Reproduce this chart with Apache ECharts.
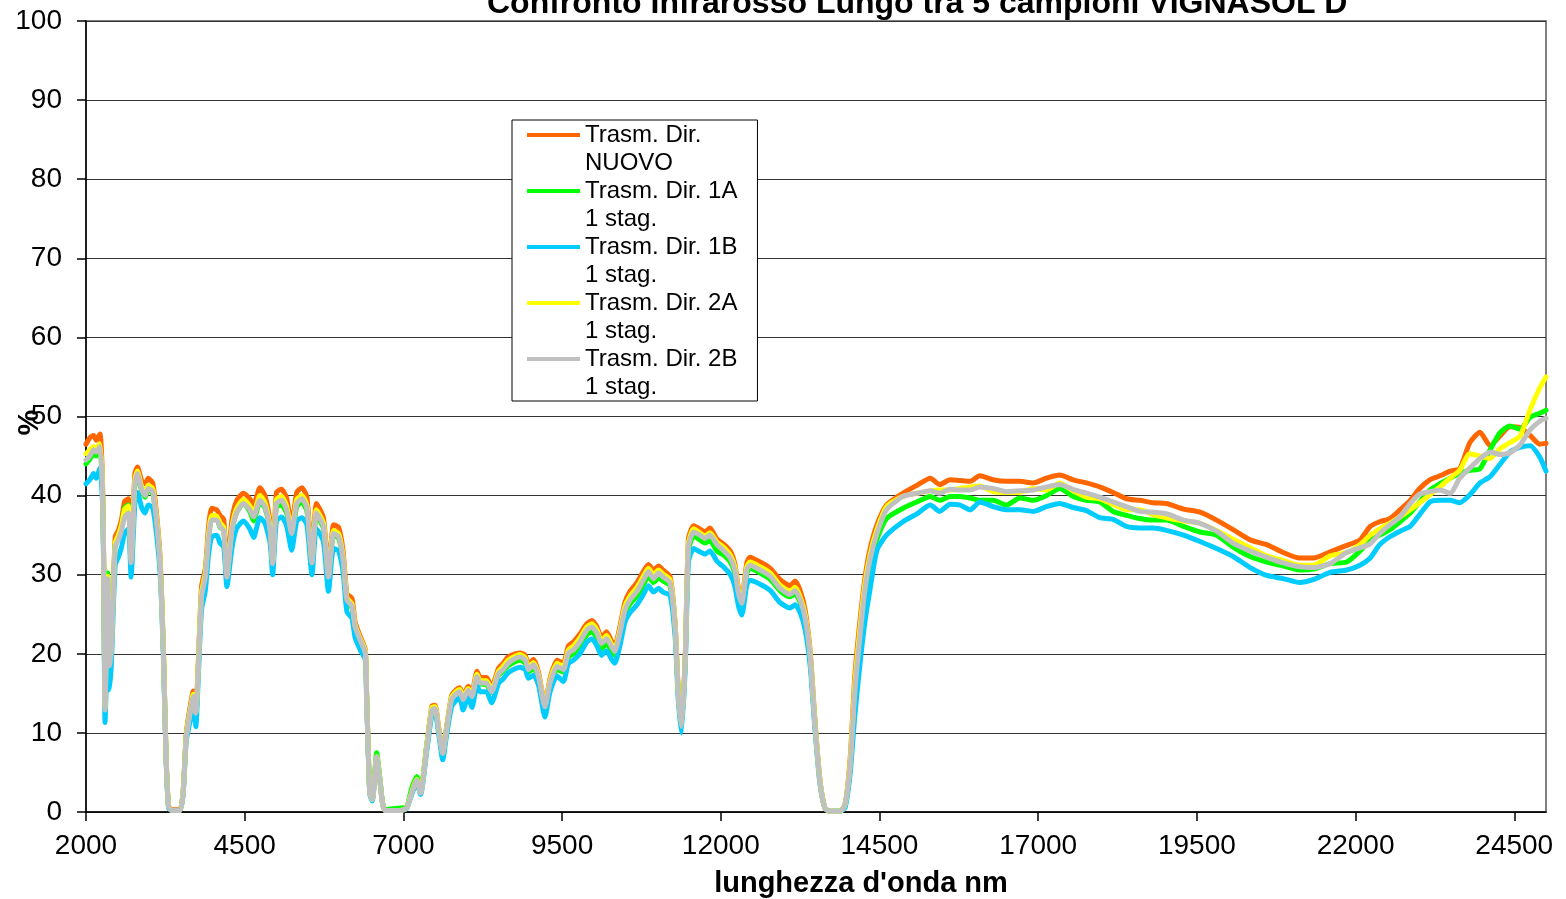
<!DOCTYPE html>
<html>
<head>
<meta charset="utf-8">
<script src="https://cdn.jsdelivr.net/npm/echarts@6/dist/echarts.min.js"></script>
<style>
html,body{margin:0;padding:0;background:#fff;}
#chart{width:1566px;height:899px;}
</style>
</head>
<body>
<div id="chart"></div>
<script>
// ---- DATA ----
const wavelengths = [
  2000, 2060, 2120, 2160, 2220, 2260, 2280, 2300, 2340, 2370,
  2400, 2460, 2510, 2560, 2610, 2670, 2710, 2770, 2810, 2880,
  2930, 2980, 3050, 3110, 3170, 3220, 3260, 3300, 3350, 3480,
  3530, 3580, 3640, 3690, 3730, 3770, 3820, 3880, 3930, 3980,
  4060, 4110, 4170, 4220, 4300, 4370, 4480, 4580, 4640, 4740,
  4820, 4900, 4940, 5000, 5080, 5160, 5240, 5320, 5400, 5480,
  5560, 5630, 5740, 5820, 5900, 5980, 6050, 6110, 6190, 6240,
  6320, 6400, 6420, 6470, 6510, 6580, 6630, 6710, 6950, 7050,
  7130, 7210, 7270, 7370, 7450, 7500, 7550, 7620, 7680, 7760,
  7840, 7890, 7940, 8020, 8080, 8160, 8210, 8310, 8390, 8500,
  8570, 8650, 8760, 8840, 8920, 8970, 9050, 9130, 9230, 9310,
  9420, 9520, 9600, 9680, 9780, 9890, 9970, 10050, 10120, 10200,
  10280, 10330, 10410, 10490, 10570, 10680, 10780, 10860, 10940, 11020,
  11090, 11200, 11280, 11330, 11380, 11440, 11490, 11570, 11670, 11750,
  11830, 11940, 12040, 12150, 12220, 12280, 12330, 12410, 12460, 12620,
  12780, 12930, 13090, 13170, 13250, 13330, 13410, 13480, 13560, 13640,
  13720, 13880, 13960,
  14040, 14110, 14190, 14270, 14350, 14460, 14610,
  14870, 15090, 15300, 15450, 15610, 15770, 15930, 16080, 16290, 16500,
  16710, 16920, 17130, 17340, 17550, 17760, 17970, 18180, 18390, 18600,
  18810, 19020, 19290, 19550, 19810, 20070, 20340, 20600, 20860, 21120,
  21340, 21600, 21860, 22070, 22230, 22380, 22540, 22700, 22860, 23010,
  23170, 23330, 23490, 23640, 23800, 23960, 24120, 24270, 24430, 24590,
  24750, 24900, 25000
];

const trasmNuovo = [
  46.5, 47.3, 47.6, 47.0, 47.8, 42.0, 31.0, 13.5, 30.0, 19.0,
  21.5, 34.8, 35.6, 37.0, 39.3, 39.6, 32.5, 42.8, 43.6, 41.8,
  41.5, 42.2, 41.6, 37.8, 31.8, 20.6, 7.6, 0.8, 0.3, 0.3,
  2.6, 10.0, 13.3, 15.3, 13.0, 19.2, 28.5, 30.8, 36.0, 38.4,
  38.2, 37.5, 37.0, 30.6, 37.0, 39.3, 40.3, 39.6, 38.8, 41.0,
  40.0, 36.6, 32.0, 40.4, 40.8, 39.7, 36.2, 40.4, 41.0, 39.8,
  32.2, 39.0, 37.2, 30.3, 36.3, 36.0, 33.0, 27.6, 27.0, 24.0,
  22.2, 20.5, 15.3, 2.5, 1.7, 7.0, 4.0, 0.2, 0.2, 0.5,
  2.5, 4.1, 2.5, 8.6, 13.4, 13.5, 11.0, 7.6, 10.7, 14.7,
  15.5, 15.7, 14.7, 15.9, 15.2, 17.8, 17.0, 17.0, 15.8, 18.2,
  18.8, 19.6, 20.0, 20.1, 19.8, 18.6, 19.3, 17.6, 13.6, 16.9,
  19.2, 18.8, 21.0, 21.5, 22.5, 23.8, 24.2, 23.4, 22.0, 22.8,
  21.6, 21.0, 23.4, 26.5, 27.9, 29.0, 30.4, 31.3, 30.6, 31.1,
  30.6, 29.8, 24.0, 15.4, 11.0, 19.8, 34.5, 36.2, 35.8, 35.4,
  35.9, 34.5, 33.9, 33.0, 31.4, 28.2, 27.0, 31.5, 32.2, 31.6,
  30.8, 29.4, 28.6, 29.2, 28.0, 25.5, 20.2, 12.0, 4.2, 0.5,
  0.1, 0.1, 1.0,
  7.0, 17.0, 24.0, 29.5, 33.2, 36.3, 38.8,
  40.3, 41.3, 42.2, 41.4, 42.0, 41.9, 41.8, 42.5, 42.0, 41.8,
  41.8, 41.6, 42.2, 42.6, 42.0, 41.6, 41.1, 40.4, 39.6, 39.4,
  39.1, 39.0, 38.3, 37.9, 36.9, 35.7, 34.4, 33.8, 32.8, 32.1,
  32.1, 32.9, 33.7, 34.4, 36.1, 36.7, 37.1, 38.2, 39.4, 40.9,
  42.0, 42.5, 43.1, 43.4, 46.7, 48.0, 46.3, 47.5, 48.7, 48.6,
  47.6, 46.5, 46.6
];

const trasm1A = [
  44.0, 44.6, 45.3, 45.0, 45.8, 40.8, 30.5, 13.0, 30.2, 18.8,
  20.8, 33.8, 34.6, 36.0, 38.5, 38.8, 31.8, 41.3, 42.6, 40.5,
  39.8, 40.7, 40.3, 36.8, 31.0, 20.1, 7.4, 0.7, 0.2, 0.2,
  2.5, 9.6, 12.6, 14.7, 12.4, 18.5, 27.3, 30.0, 34.6, 37.0,
  37.0, 36.0, 35.6, 29.8, 35.5, 37.8, 39.0, 38.0, 36.8, 39.2,
  38.4, 35.5, 31.3, 38.6, 38.8, 37.8, 35.0, 38.6, 39.2, 38.0,
  31.4, 37.5, 35.9, 29.6, 35.0, 34.6, 31.8, 26.6, 25.8, 23.2,
  21.6, 20.0, 15.0, 2.5, 1.8, 7.5, 4.3, 0.3, 0.5, 0.6,
  3.0, 4.5, 2.8, 8.6, 13.0, 13.1, 10.8, 7.5, 10.5, 14.2,
  15.0, 15.1, 14.0, 15.3, 14.5, 17.0, 16.2, 16.1, 15.1, 17.3,
  17.8, 18.5, 19.0, 19.2, 18.8, 17.7, 18.2, 16.9, 13.3, 16.2,
  18.0, 17.7, 19.6, 20.0, 21.0, 22.4, 22.8, 22.0, 20.6, 21.3,
  20.3, 19.8, 22.0, 25.0, 26.3, 27.3, 28.7, 29.8, 29.0, 29.6,
  29.2, 28.6, 23.2, 15.0, 10.8, 19.2, 33.0, 34.9, 34.4, 34.0,
  34.3, 33.0, 32.5, 31.6, 30.2, 27.3, 26.2, 30.2, 30.8, 30.2,
  29.4, 28.0, 27.2, 27.6, 26.5, 24.3, 19.3, 11.4, 4.0, 0.5,
  0.1, 0.1, 1.0,
  5.8, 14.5, 21.5, 27.5, 31.0, 34.5, 37.1,
  38.4, 39.2, 39.9, 39.4, 39.9, 39.9, 39.7, 39.4, 39.4, 38.8,
  39.7, 39.4, 40.0, 40.9, 39.9, 39.4, 39.2, 38.0, 37.5, 37.1,
  36.9, 36.9, 36.1, 35.4, 35.0, 33.5, 32.3, 31.6, 31.1, 30.6,
  30.7, 31.4, 31.6, 33.0, 34.4, 35.0, 35.7, 36.7, 37.8, 39.2,
  40.7, 41.5, 42.2, 42.8, 43.2, 43.4, 45.8, 47.9, 48.8, 48.4,
  49.9, 50.4, 50.8
];

const trasm1B = [
  41.5, 42.0, 42.8, 42.2, 43.5, 39.0, 29.0, 11.3, 20.0, 15.5,
  18.8, 31.2, 32.2, 33.5, 35.3, 35.8, 29.7, 39.0, 40.4, 38.4,
  37.8, 38.8, 38.5, 35.2, 29.8, 19.3, 7.0, 0.5, 0.2, 0.2,
  2.2, 9.0, 11.5, 13.6, 10.8, 17.2, 25.6, 28.0, 32.5, 34.8,
  35.0, 34.0, 33.5, 28.5, 33.4, 35.8, 36.8, 35.8, 34.7, 37.2,
  36.5, 34.0, 30.0, 36.8, 37.3, 36.2, 33.1, 36.8, 37.2, 36.3,
  30.0, 35.8, 34.2, 27.9, 33.3, 33.0, 30.3, 25.3, 24.5, 22.0,
  20.5, 19.2, 14.4, 2.2, 1.4, 6.5, 3.8, 0.2, 0.2, 0.4,
  2.2, 3.7, 2.2, 7.8, 12.3, 12.5, 10.2, 6.6, 9.7, 13.3,
  14.2, 14.4, 12.9, 14.6, 13.2, 16.0, 15.2, 15.2, 13.8, 16.3,
  16.8, 17.6, 18.1, 18.3, 18.0, 16.9, 17.3, 16.0, 12.0, 15.2,
  17.2, 16.5, 18.8, 19.2, 20.0, 21.5, 21.9, 21.0, 19.8, 20.4,
  19.3, 18.8, 21.0, 24.0, 25.2, 26.2, 27.5, 28.6, 27.8, 28.3,
  27.8, 27.4, 22.2, 14.2, 10.0, 18.2, 31.5, 33.3, 32.9, 32.6,
  33.0, 31.7, 31.0, 30.0, 28.6, 26.0, 24.9, 28.7, 29.3, 28.8,
  28.0, 26.5, 25.8, 26.2, 25.2, 23.0, 18.3, 10.8, 3.7, 0.5,
  0.1, 0.1, 0.6,
  5.0, 12.0, 18.5, 24.0, 28.1, 33.1, 35.0,
  36.7, 37.7, 38.8, 38.0, 38.9, 38.8, 38.2, 39.2, 38.6, 38.2,
  38.2, 38.0, 38.6, 39.0, 38.5, 38.1, 37.2, 37.0, 36.1, 35.9,
  35.9, 35.6, 35.0, 34.2, 33.3, 32.3, 30.9, 29.9, 29.5, 29.0,
  29.4, 30.3, 30.6, 31.2, 32.1, 33.8, 34.8, 35.5, 36.1, 37.6,
  39.2, 39.4, 39.4, 39.1, 40.1, 41.6, 42.4, 43.9, 45.5, 46.1,
  46.3, 44.9, 43.1
];

const trasm2A = [
  45.3, 45.8, 46.2, 45.9, 46.6, 41.5, 30.8, 13.2, 29.8, 18.8,
  21.0, 34.0, 35.0, 36.3, 38.3, 38.7, 32.0, 42.0, 43.1, 41.0,
  40.5, 41.3, 40.9, 37.3, 31.3, 20.4, 7.5, 0.8, 0.2, 0.2,
  2.5, 9.7, 12.8, 14.9, 12.7, 18.8, 27.7, 30.2, 35.0, 37.5,
  37.4, 36.6, 36.0, 30.0, 36.0, 38.3, 39.5, 38.7, 37.8, 40.0,
  39.1, 36.0, 31.6, 39.5, 39.9, 38.7, 35.6, 39.5, 40.0, 38.8,
  31.8, 38.2, 36.5, 30.0, 35.6, 35.2, 32.3, 27.1, 26.3, 23.6,
  21.9, 20.3, 15.1, 2.4, 1.6, 7.0, 4.0, 0.2, 0.2, 0.5,
  2.5, 4.1, 2.5, 8.5, 13.2, 13.3, 10.9, 7.5, 10.5, 14.5,
  15.3, 15.5, 14.5, 15.6, 14.9, 17.4, 16.6, 16.6, 15.5, 17.8,
  18.4, 19.2, 19.7, 19.9, 19.5, 18.3, 18.9, 17.3, 13.5, 16.6,
  18.8, 18.4, 20.5, 21.0, 22.0, 23.4, 23.8, 23.0, 21.6, 22.3,
  21.2, 20.6, 23.0, 26.0, 27.3, 28.4, 29.8, 30.8, 30.0, 30.6,
  30.1, 29.4, 23.7, 15.2, 10.9, 19.5, 33.9, 35.8, 35.3, 34.9,
  35.3, 34.1, 33.5, 32.5, 31.0, 27.9, 26.7, 31.0, 31.6, 31.0,
  30.2, 28.7, 27.9, 28.4, 27.2, 24.9, 19.8, 11.7, 4.1, 0.5,
  0.1, 0.1, 1.0,
  6.5, 16.0, 23.0, 28.8, 32.5, 35.7, 38.6,
  39.9, 40.3, 40.6, 40.7, 40.7, 40.9, 41.1, 41.2, 40.5, 40.4,
  40.4, 40.9, 40.7, 41.6, 40.6, 39.8, 39.6, 38.9, 38.2, 38.2,
  37.6, 37.2, 36.8, 36.5, 35.6, 34.5, 33.4, 32.4, 31.8, 31.2,
  31.2, 32.4, 32.8, 33.8, 35.0, 35.8, 36.5, 37.3, 38.2, 39.1,
  40.1, 41.1, 42.2, 43.2, 45.3, 45.0, 44.7, 45.9, 46.7, 47.5,
  50.9, 53.6, 55.0
];

const trasm2B = [
  44.5, 45.0, 45.8, 45.5, 46.2, 41.0, 30.5, 12.9, 29.5, 18.5,
  20.5, 33.5, 34.4, 35.6, 37.3, 37.8, 31.5, 41.5, 42.8, 40.7,
  40.0, 40.9, 40.5, 36.9, 31.0, 20.1, 7.4, 0.7, 0.2, 0.2,
  2.4, 9.5, 12.5, 14.6, 12.5, 18.4, 27.2, 29.7, 34.4, 36.9,
  36.9, 36.1, 35.5, 29.7, 35.6, 37.8, 39.0, 38.2, 37.3, 39.4,
  38.6, 35.6, 31.4, 39.0, 39.4, 38.2, 35.2, 39.0, 39.6, 38.4,
  31.5, 37.8, 36.1, 29.7, 35.2, 34.8, 31.9, 26.8, 26.0, 23.4,
  21.7, 20.1, 15.0, 2.4, 1.6, 7.0, 4.0, 0.2, 0.2, 0.5,
  2.4, 4.0, 2.4, 8.3, 12.9, 13.1, 10.8, 7.4, 10.4, 14.2,
  15.0, 15.2, 14.2, 15.4, 14.6, 17.1, 16.3, 16.3, 15.2, 17.5,
  18.0, 18.8, 19.4, 19.6, 19.2, 18.0, 18.6, 17.1, 13.3, 16.3,
  18.4, 18.0, 20.1, 20.5, 21.5, 23.0, 23.4, 22.6, 21.3, 21.9,
  20.9, 20.3, 22.6, 25.5, 26.8, 27.9, 29.3, 30.4, 29.5, 30.2,
  29.7, 29.0, 23.4, 15.0, 10.8, 19.2, 33.5, 35.4, 35.0, 34.6,
  35.0, 33.8, 33.1, 32.1, 30.6, 27.6, 26.4, 30.6, 31.2, 30.6,
  29.8, 28.3, 27.5, 28.0, 26.8, 24.5, 19.5, 11.5, 4.0, 0.5,
  0.1, 0.1, 1.0,
  6.0, 15.0, 22.0, 28.0, 31.9, 35.2, 38.2,
  39.9, 40.3, 40.6, 40.3, 40.8, 40.7, 40.7, 41.1, 40.9, 40.5,
  40.6, 40.7, 41.1, 41.4, 40.8, 40.3, 39.8, 39.2, 38.6, 38.0,
  37.9, 37.7, 36.9, 36.5, 35.5, 34.0, 33.0, 32.2, 31.5, 31.0,
  30.9, 31.4, 32.8, 33.4, 33.9, 35.2, 36.3, 37.3, 39.0, 40.2,
  40.5, 40.7, 40.3, 42.2, 43.5, 44.7, 45.5, 45.2, 45.4, 46.4,
  48.3, 49.4, 49.8
];

const seriesNames = [
  'Trasm. Dir.\nNUOVO',
  'Trasm. Dir. 1A\n1 stag.',
  'Trasm. Dir. 1B\n1 stag.',
  'Trasm. Dir. 2A\n1 stag.',
  'Trasm. Dir. 2B\n1 stag.'
];
const seriesValues = [trasmNuovo, trasm1A, trasm1B, trasm2A, trasm2B];
const seriesColors = ['#FF6600', '#00FF00', '#00CCFF', '#FFFF00', '#C0C0C0'];

const xTickLabels = [2000, 4500, 7000, 9500, 12000, 14500, 17000, 19500, 22000, 24500];
const X_START = 2000;
const X_END = 25000;
const X_STEP = 2500;
const yTickLabels = [0, 10, 20, 30, 40, 50, 60, 70, 80, 90, 100];

const titleText = 'Confronto Infrarosso Lungo tra 5 campioni VIGNASOL D';
const xName = "lunghezza d'onda nm";
const yName = '%';

// ---- CHART ----
const FONT = "'Liberation Sans', Arial, Helvetica, sans-serif";
const chart = echarts.init(document.getElementById('chart'), null, {renderer: 'canvas'});

const series = seriesValues.map((vals, k) => ({
  name: seriesNames[k],
  type: 'line',
  data: wavelengths.map((w, i) => [w - X_START, vals[i]]),
  showSymbol: false,
  symbol: 'none',
  smooth: 0.2,
  color: seriesColors[k],
  itemStyle: {color: seriesColors[k]},
  lineStyle: {color: seriesColors[k], width: 5, cap: 'round', join: 'round'},
  emphasis: {disabled: true},
  animation: false
}));

const option = {
  animation: false,
  backgroundColor: '#fff',
  title: {
    text: titleText,
    left: 482,
    top: -17,
    textStyle: {fontFamily: FONT, fontSize: 32, fontWeight: 'bold', color: '#000'}
  },
  grid: {
    left: 86, right: 20, top: 21, bottom: 87,
    containLabel: false,
    outerBoundsMode: 'none',
    show: true, borderColor: '#808080', borderWidth: 2, backgroundColor: 'transparent'
  },
  legend: {
    orient: 'vertical',
    left: 512,
    top: 120,
    padding: [1, 20, 0, 15],
    itemGap: 0,
    itemWidth: 53,
    itemHeight: 56,
    icon: 'path://M0,0L0.05,0L0,0.05Z M0,12L53,12L53,16L0,16Z M53,56L52.95,56L53,55.95Z',
    itemStyle: {borderWidth: 0, borderColor: 'transparent'},
    backgroundColor: '#fff',
    borderColor: '#000',
    borderWidth: 1,
    selectedMode: false,
    textStyle: {fontFamily: FONT, fontSize: 24, lineHeight: 28, color: '#000'},
    data: seriesNames
  },
  xAxis: {
    type: 'value',
    min: 0,
    max: X_END - X_START,
    interval: X_STEP,
    name: xName,
    nameLocation: 'middle',
    nameGap: 57,
    nameMoveOverlap: false,
    nameTextStyle: {fontFamily: FONT, fontSize: 29, fontWeight: 'bold', color: '#000', padding: [0, 0, 0, 90]},
    axisLine: {show: true, onZero: false, lineStyle: {color: '#000', width: 1.5}},
    axisTick: {show: true, length: 9, lineStyle: {color: '#000', width: 1.5},
      customValues: xTickLabels.map(v => v - X_START)},
    axisLabel: {
      fontFamily: FONT, fontSize: 28, color: '#000', margin: 20,
      customValues: xTickLabels.map(v => v - X_START),
      formatter: v => String(v + X_START)
    },
    splitLine: {show: false}
  },
  yAxis: {
    type: 'value',
    min: yTickLabels[0],
    max: yTickLabels[yTickLabels.length - 1],
    interval: 10,
    name: yName,
    nameLocation: 'middle',
    nameGap: 42,
    nameMoveOverlap: false,
    nameTextStyle: {fontFamily: FONT, fontSize: 29, fontWeight: 'bold', color: '#000', padding: [0, 12, 0, 0]},
    axisLine: {show: true, lineStyle: {color: '#000', width: 1.5}},
    axisTick: {show: true, length: 9, lineStyle: {color: '#000', width: 1.5}},
    axisLabel: {fontFamily: FONT, fontSize: 28, color: '#000', margin: 24},
    splitLine: {show: true, lineStyle: {color: '#333', width: 1}}
  },
  series: series
};
chart.setOption(option);
</script>
</body>
</html>
